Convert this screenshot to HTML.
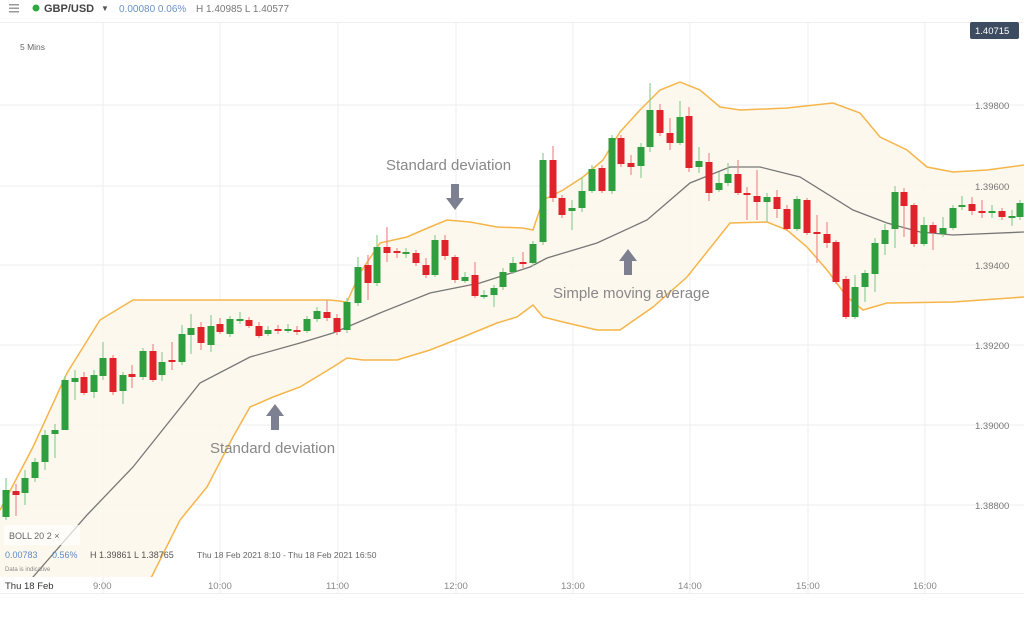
<!DOCTYPE html>
<html><head><meta charset="utf-8"><style>
html,body{margin:0;padding:0;background:#fff;width:1024px;height:621px;overflow:hidden;font-family:"Liberation Sans",sans-serif}
svg{display:block}
</style></head><body>
<svg width="1024" height="621" viewBox="0 0 1024 621" xmlns="http://www.w3.org/2000/svg" font-family="Liberation Sans, sans-serif">
<defs><clipPath id="pc"><rect x="0" y="23" width="1024" height="554"/></clipPath></defs>
<rect width="1024" height="621" fill="#fff"/>
<g fill="#999"><rect x="9" y="4" width="10" height="1.5"/><rect x="9" y="7.5" width="10" height="1.5"/><rect x="9" y="11" width="10" height="1.5"/></g>
<circle cx="36" cy="8" r="3.5" fill="#2eaa3e"/>
<text x="44" y="12" font-size="11" font-weight="bold" fill="#444">GBP/USD</text>
<text x="101" y="11" font-size="8" fill="#555">▼</text>
<text x="119" y="12" font-size="10" fill="#6a93c8">0.00080  0.06%</text>
<text x="196" y="12" font-size="10" fill="#777">H 1.40985  L 1.40577</text>
<line x1="0" y1="22.5" x2="1024" y2="22.5" stroke="#eee"/>
<g stroke="#eeeeee" stroke-width="1">
<line x1="103" y1="23" x2="103" y2="593"/><line x1="220" y1="23" x2="220" y2="593"/><line x1="338" y1="23" x2="338" y2="593"/><line x1="456" y1="23" x2="456" y2="593"/><line x1="573" y1="23" x2="573" y2="593"/><line x1="690" y1="23" x2="690" y2="593"/><line x1="808" y1="23" x2="808" y2="593"/><line x1="925" y1="23" x2="925" y2="593"/>
<line x1="0" y1="105" x2="1024" y2="105"/><line x1="0" y1="186" x2="1024" y2="186"/><line x1="0" y1="265" x2="1024" y2="265"/><line x1="0" y1="345" x2="1024" y2="345"/><line x1="0" y1="425" x2="1024" y2="425"/><line x1="0" y1="505" x2="1024" y2="505"/>
</g>
<g clip-path="url(#pc)">
<polygon fill="#fdf6e8" fill-opacity="0.8" points="0,510 33,447 67,373 100,320 133,300 230,300 330,300 347,302 360,273 380,243 407,237 430,227 447,220 470,222 497,227 523,228 533,230 543,200 563,190 583,177 603,160 620,132 640,110 660,90 680,82 700,90 720,107 740,110 787,108 833,103 860,113 880,137 907,150 927,167 953,172 987,170 1024,165 1024,297 953,302 887,303 863,310 847,297 827,270 807,247 787,230 767,222 730,223 687,277 653,307 620,330 597,330 563,322 543,317 533,305 517,317 497,323 463,337 430,350 397,360 363,360 347,358 333,367 300,387 273,397 250,407 233,437 207,487 180,520 150,580 120,650 0,700"/>
<polyline fill="none" stroke="#f5b54a" stroke-width="1.5" points="0,510 33,447 67,373 100,320 133,300 230,300 330,300 347,302 360,273 380,243 407,237 430,227 447,220 470,222 497,227 523,228 533,230 543,200 563,190 583,177 603,160 620,132 640,110 660,90 680,82 700,90 720,107 740,110 787,108 833,103 860,113 880,137 907,150 927,167 953,172 987,170 1024,165"/>
<polyline fill="none" stroke="#f5b54a" stroke-width="1.5" points="1024,297 953,302 887,303 863,310 847,297 827,270 807,247 787,230 767,222 730,223 687,277 653,307 620,330 597,330 563,322 543,317 533,305 517,317 497,323 463,337 430,350 397,360 363,360 347,358 333,367 300,387 273,397 250,407 233,437 207,487 180,520 150,580 120,650"/>
<polyline fill="none" stroke="#777" stroke-width="1.3" points="20,592 33,577 87,515 133,467 200,383 250,357 300,343 333,333 380,313 430,293 480,283 530,267 547,258 597,243 647,220 690,183 730,167 760,167 800,177 853,210 887,223 920,232 953,235 1024,232"/>
<path fill="none" stroke="#8fcf97" stroke-width="1.2" d="M6 478V520M25 470V505M35 458V482M45 430V470M55 424V458M65 376V430M75 370V400M94 370V398M103 342V380M123 372V404M143 348V380M162 352V381M182 325V365M191 314V354M211 315V352M230 316V337M240 312V324M268 326V336M288 324V333M307 316V333M317 307V322M347 298V333M358 257V306M377 235V286M406 248V258M435 235V277M465 272V283M484 290V299M494 285V307M503 268V290M513 257V274M533 241V266M543 153V245M572 200V230M582 177V212M592 165V193M612 135V194M641 143V178M650 83V152M680 101V145M699 147V173M719 172V192M728 163V186M767 193V222M797 196V231M855 275V319M865 270V302M875 238V292M885 224V255M895 186V248M924 217V246M943 217V237M953 205V230M962 196V210M992 205V218M1012 210V226M1020 200V220"/>
<path fill="none" stroke="#f08a8f" stroke-width="1.2" d="M16 484V516M84 372V395M113 355V395M132 365V388M153 344V382M172 342V370M201 322V350M220 318V334M249 317V328M259 322V338M278 325V334M297 326V335M327 300V321M337 314V335M368 255V300M387 227V262M397 248V258M416 250V266M426 258V278M445 235V260M455 255V283M475 262V298M523 252V268M553 146V202M562 195V218M602 165V193M621 135V167M631 155V175M660 104V136M670 118V150M689 107V172M709 153V201M738 160V195M747 187V220M757 170V220M777 190V218M787 205V231M807 198V235M817 215V263M827 222V248M836 240V284M846 276V319M904 188V237M914 203V247M933 222V250M972 197V215M982 200V218M1002 208V220"/>
<path fill="#2f9e3f" d="M2.5 490h7v27h-7zM21.5 478h7v15h-7zM31.5 462h7v16h-7zM41.5 435h7v27h-7zM51.5 430h7v4h-7zM61.5 380h7v50h-7zM71.5 378h7v4h-7zM90.5 375h7v17h-7zM99.5 358h7v18h-7zM119.5 375h7v16h-7zM139.5 351h7v26h-7zM158.5 362h7v13h-7zM178.5 334h7v28h-7zM187.5 328h7v7h-7zM207.5 326h7v19h-7zM226.5 319h7v15h-7zM236.5 319h7v2h-7zM264.5 330h7v4h-7zM284.5 329h7v2h-7zM303.5 319h7v12h-7zM313.5 311h7v8h-7zM343.5 302h7v28h-7zM354.5 267h7v36h-7zM373.5 247h7v36h-7zM402.5 252h7v2h-7zM431.5 240h7v35h-7zM461.5 277h7v4h-7zM480.5 295h7v2h-7zM490.5 288h7v7h-7zM499.5 272h7v15h-7zM509.5 263h7v9h-7zM529.5 244h7v19h-7zM539.5 160h7v82h-7zM568.5 208h7v3h-7zM578.5 191h7v17h-7zM588.5 169h7v22h-7zM608.5 138h7v53h-7zM637.5 147h7v19h-7zM646.5 110h7v37h-7zM676.5 117h7v26h-7zM695.5 161h7v6h-7zM715.5 183h7v7h-7zM724.5 174h7v9h-7zM763.5 197h7v5h-7zM793.5 199h7v30h-7zM851.5 287h7v30h-7zM861.5 273h7v14h-7zM871.5 243h7v31h-7zM881.5 230h7v14h-7zM891.5 192h7v37h-7zM920.5 225h7v19h-7zM939.5 228h7v6h-7zM949.5 208h7v20h-7zM958.5 205h7v2h-7zM988.5 211h7v2h-7zM1008.5 216h7v2h-7zM1016.5 203h7v14h-7z"/>
<path fill="#e0222b" d="M12.5 491h7v4h-7zM80.5 377h7v16h-7zM109.5 358h7v34h-7zM128.5 374h7v3h-7zM149.5 351h7v29h-7zM168.5 360h7v2h-7zM197.5 327h7v16h-7zM216.5 324h7v8h-7zM245.5 320h7v6h-7zM255.5 326h7v10h-7zM274.5 329h7v2h-7zM293.5 330h7v2h-7zM323.5 312h7v6h-7zM333.5 318h7v14h-7zM364.5 265h7v18h-7zM383.5 247h7v6h-7zM393.5 251h7v2h-7zM412.5 253h7v10h-7zM422.5 265h7v10h-7zM441.5 240h7v16h-7zM451.5 257h7v23h-7zM471.5 275h7v21h-7zM519.5 262h7v2h-7zM549.5 160h7v38h-7zM558.5 198h7v17h-7zM598.5 168h7v23h-7zM617.5 138h7v26h-7zM627.5 163h7v4h-7zM656.5 110h7v23h-7zM666.5 133h7v10h-7zM685.5 116h7v52h-7zM705.5 162h7v31h-7zM734.5 174h7v19h-7zM743.5 193h7v2h-7zM753.5 196h7v6h-7zM773.5 197h7v12h-7zM783.5 209h7v20h-7zM803.5 200h7v33h-7zM813.5 232h7v2h-7zM823.5 234h7v9h-7zM832.5 242h7v40h-7zM842.5 279h7v38h-7zM900.5 192h7v14h-7zM910.5 205h7v39h-7zM929.5 225h7v8h-7zM968.5 204h7v7h-7zM978.5 211h7v2h-7zM998.5 211h7v6h-7z"/>
</g>
<g fill="#888" font-size="15">
<text x="386" y="170">Standard deviation</text>
<text x="553" y="298">Simple moving average</text>
<text x="210" y="453">Standard deviation</text>
</g>
<g fill="#7d8090">
<polygon points="451,184 459,184 459,198 464,198 455,210 446,198 451,198"/>
<polygon points="624,275 632,275 632,261 637,261 628,249 619,261 624,261"/>
<polygon points="271,430 279,430 279,416 284,416 275,404 266,416 271,416"/>
</g>
<rect x="4" y="525" width="76" height="20" fill="#fff" fill-opacity="0.7"/>
<text x="9" y="539" font-size="9" fill="#666">BOLL  20  2  ×</text>
<text x="5" y="558" font-size="9" fill="#5b8bc8">0.00783</text>
<text x="52" y="558" font-size="9" fill="#5b8bc8">0.56%</text>
<text x="90" y="558" font-size="9" fill="#555">H 1.39861   L 1.38765</text>
<text x="197" y="558" font-size="8.5" fill="#666">Thu 18 Feb 2021 8:10 - Thu 18 Feb 2021 16:50</text>
<text x="5" y="571" font-size="6" fill="#888">Data is indicative</text>
<line x1="0" y1="593.5" x2="1024" y2="593.5" stroke="#eee"/>
<g font-size="9.5" fill="#888">
<text x="5" y="589" fill="#333">Thu 18 Feb</text>
<text x="93" y="589">9:00</text><text x="208" y="589">10:00</text><text x="326" y="589">11:00</text><text x="444" y="589">12:00</text><text x="561" y="589">13:00</text><text x="678" y="589">14:00</text><text x="796" y="589">15:00</text><text x="913" y="589">16:00</text>
</g>
<g font-size="9.5" fill="#777">
<text x="975" y="109">1.39800</text><text x="975" y="190">1.39600</text><text x="975" y="269">1.39400</text><text x="975" y="349">1.39200</text><text x="975" y="429">1.39000</text><text x="975" y="509">1.38800</text>
</g>
<rect x="970" y="22" width="49" height="17" rx="2" fill="#3e4c61"/>
<text x="975" y="34" font-size="9.5" fill="#fff">1.40715</text>
<text x="20" y="50" font-size="8.5" fill="#666">5 Mins</text>
</svg>
</body></html>
